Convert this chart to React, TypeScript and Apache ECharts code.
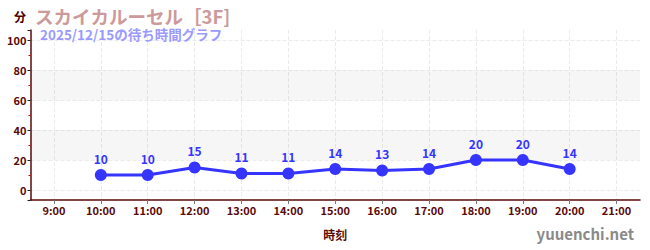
import React, { useEffect, useRef } from "react";
import * as echarts from "echarts";

const hours = [10, 11, 12, 13, 14, 15, 16, 17, 18, 19, 20];
const waits = [10, 10, 15, 11, 11, 14, 13, 14, 20, 20, 14];
const shadedBands = [
  [20, 40],
  [60, 80],
];
const xMin = 8.5;
const xMax = 21.5;
const yMin = -6.7;
const yMax = 106.9;

const titleText = "スカイカルーセル［3F]";
const subText = "2025/12/15の待ち時間グラフ";
const yName = "分";
const xName = "時刻";
const watermark = "yuuenchi.net";

const axisColor = "#5a0a0a";
const font = "'Noto Sans CJK JP', 'Noto Sans', sans-serif";

export default function App() {
  const ref = useRef<HTMLDivElement>(null);
  useEffect(() => {
    document.body.style.margin = "0";
    if (!ref.current) return;
    const chart = echarts.init(ref.current, null, { renderer: "svg" });
    chart.setOption({
      animation: false,
      textStyle: { fontFamily: font },
      title: [
        {
          text: yName,
          left: 14,
          top: 10,
          padding: 0,
          textStyle: { fontSize: 12, fontWeight: "bold", color: "#4a0000", fontFamily: font },
        },
        {
          text: titleText,
          left: 35,
          top: 7,
          padding: 0,
          textStyle: {
            fontSize: 18.5,
            lineHeight: 18,
            fontWeight: "bold",
            color: "#cc9a9a",
            fontFamily: font,
          },
        },
        {
          text: subText,
          left: 40,
          top: 27,
          padding: 0,
          textStyle: {
            fontSize: 13.5,
            lineHeight: 13,
            fontWeight: "bold",
            color: "#9a9aff",
            fontFamily: font,
          },
        },
        {
          text: watermark,
          right: 16,
          top: 226,
          padding: 0,
          textStyle: { fontSize: 15, fontWeight: "bold", color: "#8a8a8a", fontFamily: font },
        },
      ],
      grid: { left: 30.5, right: 10, top: 30, bottom: 50, containLabel: false },
      xAxis: {
        type: "value",
        min: xMin,
        max: xMax,
        splitNumber: 13,
        name: xName,
        nameLocation: "middle",
        nameGap: 28,
        nameTextStyle: { fontSize: 12, fontWeight: "bold", color: axisColor, fontFamily: font },
        axisLine: { show: true, onZero: false, lineStyle: { color: axisColor, width: 1.5 } },
        axisTick: { show: true, length: 4, lineStyle: { color: "#777" } },
        axisLabel: {
          showMinLabel: false,
          showMaxLabel: false,
          margin: 4,
          fontSize: 11,
          fontWeight: "bold",
          color: axisColor,
          formatter: (v: number) => (Number.isInteger(v) ? `${v}:00` : ""),
        },
        splitLine: {
          show: true,
          showMinLine: false,
          showMaxLine: false,
          lineStyle: { type: "dashed", color: "#ebebeb" },
        },
      },
      yAxis: {
        type: "value",
        min: yMin,
        max: yMax,
        axisLine: { show: true, lineStyle: { color: axisColor, width: 1.5 } },
        axisTick: { show: true, length: 3, lineStyle: { color: "#222" } },
        minorTick: { show: true, splitNumber: 2, length: 2, lineStyle: { color: "#dd0000" } },
        axisLabel: {
          showMinLabel: false,
          showMaxLabel: false,
          margin: 4,
          fontSize: 11,
          fontWeight: "bold",
          color: axisColor,
        },
        splitLine: {
          show: true,
          showMinLine: false,
          showMaxLine: false,
          lineStyle: { type: "dashed", color: "#ebebeb" },
        },
      },
      series: [
        {
          type: "line",
          data: hours.map((h, i) => [h, waits[i]]),
          symbol: "circle",
          symbolSize: 12,
          lineStyle: { color: "#3535ff", width: 3 },
          itemStyle: { color: "#3535ff" },
          label: {
            show: true,
            position: "top",
            distance: 5,
            fontSize: 12,
            fontWeight: "bold",
            color: "#3535ff",
            fontFamily: font,
          },
          markArea: {
            silent: true,
            itemStyle: { color: "rgba(0,0,0,0.035)" },
            data: shadedBands.map((b) => [{ yAxis: b[0] }, { yAxis: b[1] }]),
          },
          z: 3,
        },
      ],
    });
    return () => chart.dispose();
  }, []);
  return <div ref={ref} style={{ width: 650, height: 250 }} />;
}
